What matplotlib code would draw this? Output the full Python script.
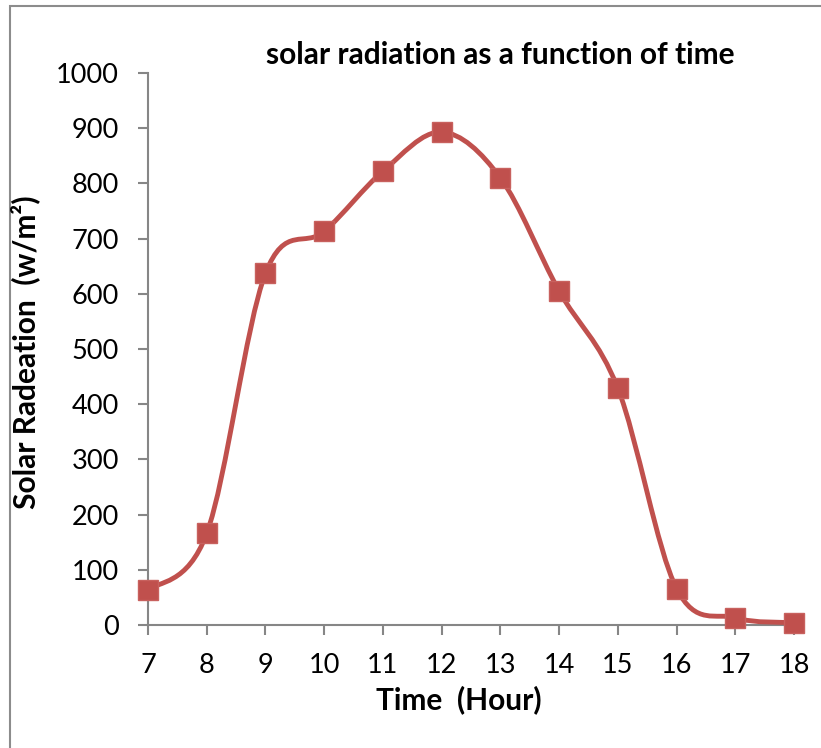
import numpy as np
import matplotlib
matplotlib.use("Agg")
import matplotlib.pyplot as plt
from matplotlib.path import Path
from matplotlib.patches import PathPatch, Rectangle

# data
hours = [7, 8, 9, 10, 11, 12, 13, 14, 15, 16, 17, 18]
radiation = [63, 166, 637, 713, 822, 893, 810, 605, 429, 66, 13, 4]
xticks = list(range(7, 19))
yticks = list(range(0, 1001, 100))

color = '#C0504D'
axis_gray = '#868686'
plt.rcParams['font.family'] = ['Lato', 'DejaVu Sans']


def smooth_path(xs, ys):
    '''Excel-like smoothed line: cubic Bezier segments through every point'''
    pts = np.column_stack([xs, ys]).astype(float)
    padded = np.vstack([pts[0], pts, pts[-1]])
    verts = [pts[0]]
    codes = [Path.MOVETO]
    for i in range(len(pts) - 1):
        p0, p1, p2, p3 = padded[i], padded[i + 1], padded[i + 2], padded[i + 3]
        verts += [p1 + (p2 - p0) / 6, p2 - (p3 - p1) / 6, p2]
        codes += [Path.CURVE4] * 3
    return Path(verts, codes)


fig = plt.figure(figsize=(8.21, 7.48), dpi=100)
ax = fig.add_axes([148 / 821, 1 - 625 / 748, (794 - 148) / 821, (625 - 73) / 748])

# outer chart frame (runs off the right and bottom of the image)
fig.patches.append(Rectangle((10 / 821, -0.1), 1.2, 1 - 6 / 748 + 0.1,
                             transform=fig.transFigure, fill=False,
                             edgecolor='#8c8c8c', linewidth=1.5))

ax.add_patch(PathPatch(smooth_path(hours, radiation), facecolor='none',
                       edgecolor=color, linewidth=3.5, clip_on=False, zorder=3))
ax.plot(hours, radiation, linestyle='none', marker='s', markersize=14,
        markerfacecolor=color, markeredgecolor='#c8615e', markeredgewidth=1,
        clip_on=False, zorder=4)

ax.set_xlim(7, 18)
ax.set_ylim(0, 1000)
ax.set_xticks(xticks)
ax.set_yticks(yticks)
for s in ['top', 'right']:
    ax.spines[s].set_visible(False)
for s in ['left', 'bottom']:
    ax.spines[s].set_color(axis_gray)
    ax.spines[s].set_linewidth(1.5)
ax.tick_params(axis='both', direction='out', length=7, width=1.5,
               color=axis_gray, labelsize=19.5, labelcolor='black')
ax.tick_params(axis='y', pad=14)
ax.tick_params(axis='x', pad=13)

fig.text(500 / 821, 1 - 55 / 748, 'solar radiation as a function of time',
         ha='center', va='center', fontsize=21.5, fontweight='bold')
fig.text(459 / 821, 1 - 700 / 748, 'Time  (Hour)',
         ha='center', va='center', fontsize=21.5, fontweight='bold')
fig.text(25 / 821, 1 - 352 / 748, 'Solar Radeation  (w/m²)', rotation=90,
         ha='center', va='center', fontsize=21.5, fontweight='bold')

fig.savefig('out.png', dpi=100)
